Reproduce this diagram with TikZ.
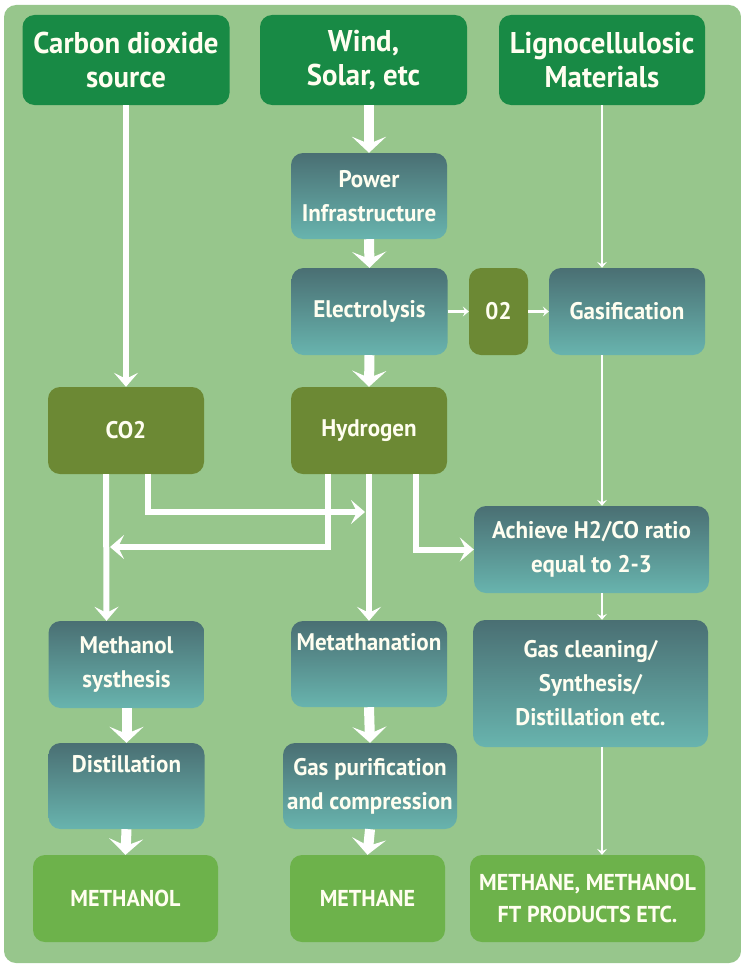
\documentclass[tikz,border=0pt]{standalone}
\usepackage{fontspec}
\setmainfont{PT Sans}[FakeStretch=0.96]
\usetikzlibrary{arrows.meta}

\definecolor{bggreen}{HTML}{97C68C}
\definecolor{srcgreen}{HTML}{188A45}
\definecolor{olivebox}{HTML}{6C8934}
\definecolor{proctop}{HTML}{4A6F73}
\definecolor{procbot}{HTML}{68B4AE}
\definecolor{outgreen}{HTML}{6DB24B}
\definecolor{txtcream}{HTML}{FFFEF0}

\tikzset{
  box/.style={rounded corners=12pt, inner sep=0pt, align=center, text=txtcream,
    font=\bfseries\fontsize{24}{34}\selectfont},
  srcbox/.style={box, fill=srcgreen, minimum width=207pt, minimum height=90pt,
    font=\bfseries\fontsize{30}{34}\selectfont},
  procbox/.style={box, top color=proctop, bottom color=procbot, minimum width=156pt, minimum height=87pt},
  gasbox/.style={box, fill=olivebox, minimum width=156pt, minimum height=87pt},
  outbox/.style={box, fill=outgreen, minimum width=185pt, minimum height=87pt,
    font=\bfseries\fontsize{23}{32}\selectfont},
  fatarrow/.style={draw=white, line width=10pt, -{Stealth[length=16pt,width=34pt,inset=7pt]}},
  midarrow/.style={draw=white, line width=6pt, -{Stealth[length=14pt,width=24pt,inset=6pt]}},
  thinarrow/.style={draw=white, line width=2.5pt, -{Stealth[length=6pt,width=10pt,inset=2.5pt]}}
}

\begin{document}
\begin{tikzpicture}[x=1pt,y=-1pt]
\useasboundingbox (0,0) rectangle (741,966);
\fill[bggreen, rounded corners=12pt] (4,5) rectangle (741,963);

\node[srcbox] (co2src) at (126,60) {Carbon dioxide\\source};
\node[srcbox] (windsrc) at (363.5,60) {Wind,\\Solar, etc};
\node[srcbox, minimum width=206pt] (lignosrc) at (602,60) {Lignocellulosic\\Materials};

\node[procbox, minimum height=86pt] (power) at (369,196) {Power\\Infrastructure};
\node[procbox] (electro) at (369.5,311.5) {Electrolysis};
\node[gasbox, minimum width=59pt] (otwo) at (498.5,311.5) {02};
\node[procbox] (gasif) at (627,311.5) {Gasification};

\node[gasbox] (co2) at (126,430.5) {CO2};
\node[gasbox] (hydrogen) at (369,430.5) {Hydrogen};
\node[procbox, minimum width=235pt] (ratio) at (591.5,549.5) {Achieve H2/CO ratio\\equal to 2-3};

\node[procbox] (msyn) at (126.5,664.5) {Methanol\\systhesis};
\node[procbox, minimum height=86pt] (mdist) at (126.5,786) {Distillation\\\strut};
\node[outbox] (methanol) at (125.5,898.5) {METHANOL};

\node[procbox, minimum height=86pt] (methan) at (369,664) {Metathanation\\\strut};
\node[procbox, minimum width=174pt, minimum height=86pt] (gaspur) at (370,786) {Gas purification\\and compression};
\node[outbox, minimum width=155pt] (methane) at (367.5,898.5) {METHANE};

\node[procbox, minimum width=235pt, minimum height=127pt] (gasclean) at (590.5,683.5) {Gas cleaning/\\Synthesis/\\Distillation etc.};
\node[outbox, minimum width=235pt] (products) at (587.5,898.5) {METHANE, METHANOL\\FT PRODUCTS ETC.};

\coordinate (co2join) at (365,512);
\coordinate (h2join) at (110,547);

\draw[fatarrow] (windsrc.south -| power.north) -- (power.north);
\draw[fatarrow] (power.south) -- (electro.north);
\draw[fatarrow] (electro.south) -- (hydrogen.north);
\draw[thinarrow] (electro.east) -- (otwo.west);
\draw[thinarrow] (otwo.east) -- (gasif.west);

\draw[midarrow] (co2src.south) -- (co2.north);
\draw[thinarrow] (lignosrc.south) -- (lignosrc.south |- gasif.north);
\draw[thinarrow] (gasif.south -| lignosrc.south) -- (lignosrc.south |- ratio.north);
\draw[thinarrow] (ratio.south -| lignosrc.south) -- (lignosrc.south |- gasclean.north);
\draw[thinarrow] (gasclean.south -| lignosrc.south) -- (lignosrc.south |- products.north);

\draw[midarrow] ([xshift=-20pt]co2.south) -- ([xshift=-20pt]msyn.north);
\draw[midarrow] (hydrogen.south) -- (methan.north);
\draw[midarrow] ([xshift=22pt]co2.south) |- (co2join);
\draw[midarrow] ([xshift=-41pt]hydrogen.south) |- (h2join);
\draw[midarrow] ([xshift=47pt]hydrogen.south) |- (ratio.west);

\draw[fatarrow] (msyn.south) -- (mdist.north);
\draw[fatarrow] (mdist.south) -- (methanol.north);
\draw[fatarrow] (methan.south) -- (gaspur.north);
\draw[fatarrow] (gaspur.south) -- (methane.north);
\end{tikzpicture}
\end{document}
